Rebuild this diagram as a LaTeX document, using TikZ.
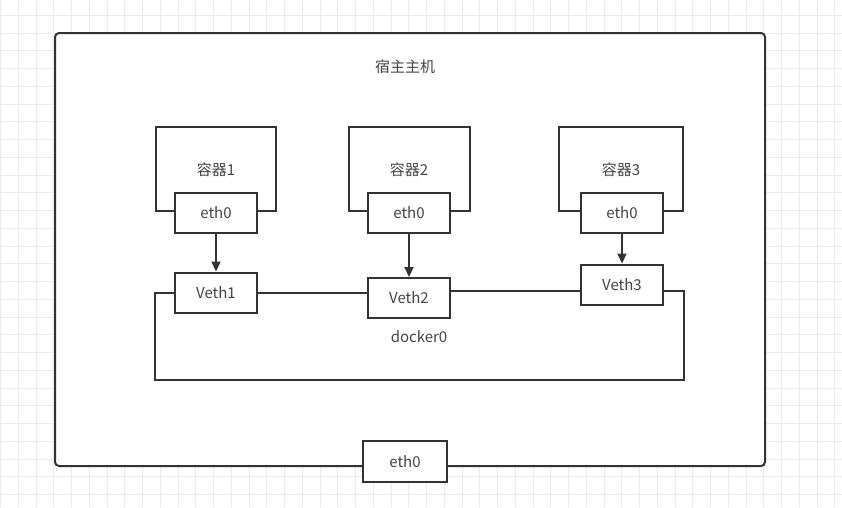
\documentclass[tikz,border=0pt]{standalone}
\usepackage{fontspec}
\setmainfont{Noto Sans CJK SC}
\usetikzlibrary{arrows.meta}
\definecolor{ln}{HTML}{333333}
\definecolor{tx}{HTML}{444444}
\definecolor{gridc}{HTML}{EBEBEB}
\tikzset{
  box/.style={draw=ln, line width=2pt, fill=white},
  port/.style={draw=ln, line width=2pt, fill=white, minimum width=82pt, minimum height=40pt, inner sep=0pt, font=\fontsize{15}{17}\selectfont, text=tx},
  lbl/.style={font=\fontsize{15}{17}\selectfont, text=tx},
  wire/.style={draw=ln, line width=2pt},
  arr/.style={draw=ln, line width=2pt, -{Triangle[length=10pt,width=9pt]}}
}
\begin{document}
\begin{tikzpicture}[x=1pt,y=-1pt]
\useasboundingbox (0,0) rectangle (842,507);
\fill[white] (0,0) rectangle (842,507);
\foreach \i in {0,...,48} {\draw[gridc, line width=0.8pt] (0.5+\i*17.75,0) -- (0.5+\i*17.75,507);}
\foreach \j in {0,...,29} {\draw[gridc, line width=0.8pt] (0,-2.5+\j*17.75) -- (842,-2.5+\j*17.75);}
% host box
\draw[box, rounded corners=4pt] (55,33) rectangle (765,466);
\node[lbl] (host) at (405,67) {宿主主机};
% containers
\draw[box] (156,127) rectangle (276,211);
\draw[box] (349,127) rectangle (470,211);
\draw[box] (559,127) rectangle (683,211);
\node[lbl] (c1) at (216,170) {容器1};
\node[lbl] (c2) at (409,170) {容器2};
\node[lbl] (c3) at (621,170) {容器3};
\node[port] (e1) at (216,213) {eth0};
\node[port] (e2) at (409,213) {eth0};
\node[port] (e3) at (622,213) {eth0};
\node[port] (v1) at (216,292.5) {Veth1};
\node[port] (v2) at (409,298) {Veth2};
\node[port] (v3) at (622,284.5) {Veth3};
\draw[arr] (e1) -- (v1);
\draw[arr] (e2) -- (v2);
\draw[arr] (e3) -- (v3);
% bridge
\coordinate (bl) at (155,380);
\coordinate (br) at (684,380);
\draw[wire] (v1.east) -- (v1.east -| v2.west);
\draw[wire] (v2.east |- 0,290.5) -- (v3.west |- 0,290.5);
\draw[wire] (v1.west) -| (bl) -- (br) |- (v3.east |- 0,290.5);
\node[lbl] (d0) at (419,337) {docker0};
% host eth0
\node[port, minimum width=84pt, minimum height=41pt] (he) at (405,461.5) {eth0};
\end{tikzpicture}
\end{document}
